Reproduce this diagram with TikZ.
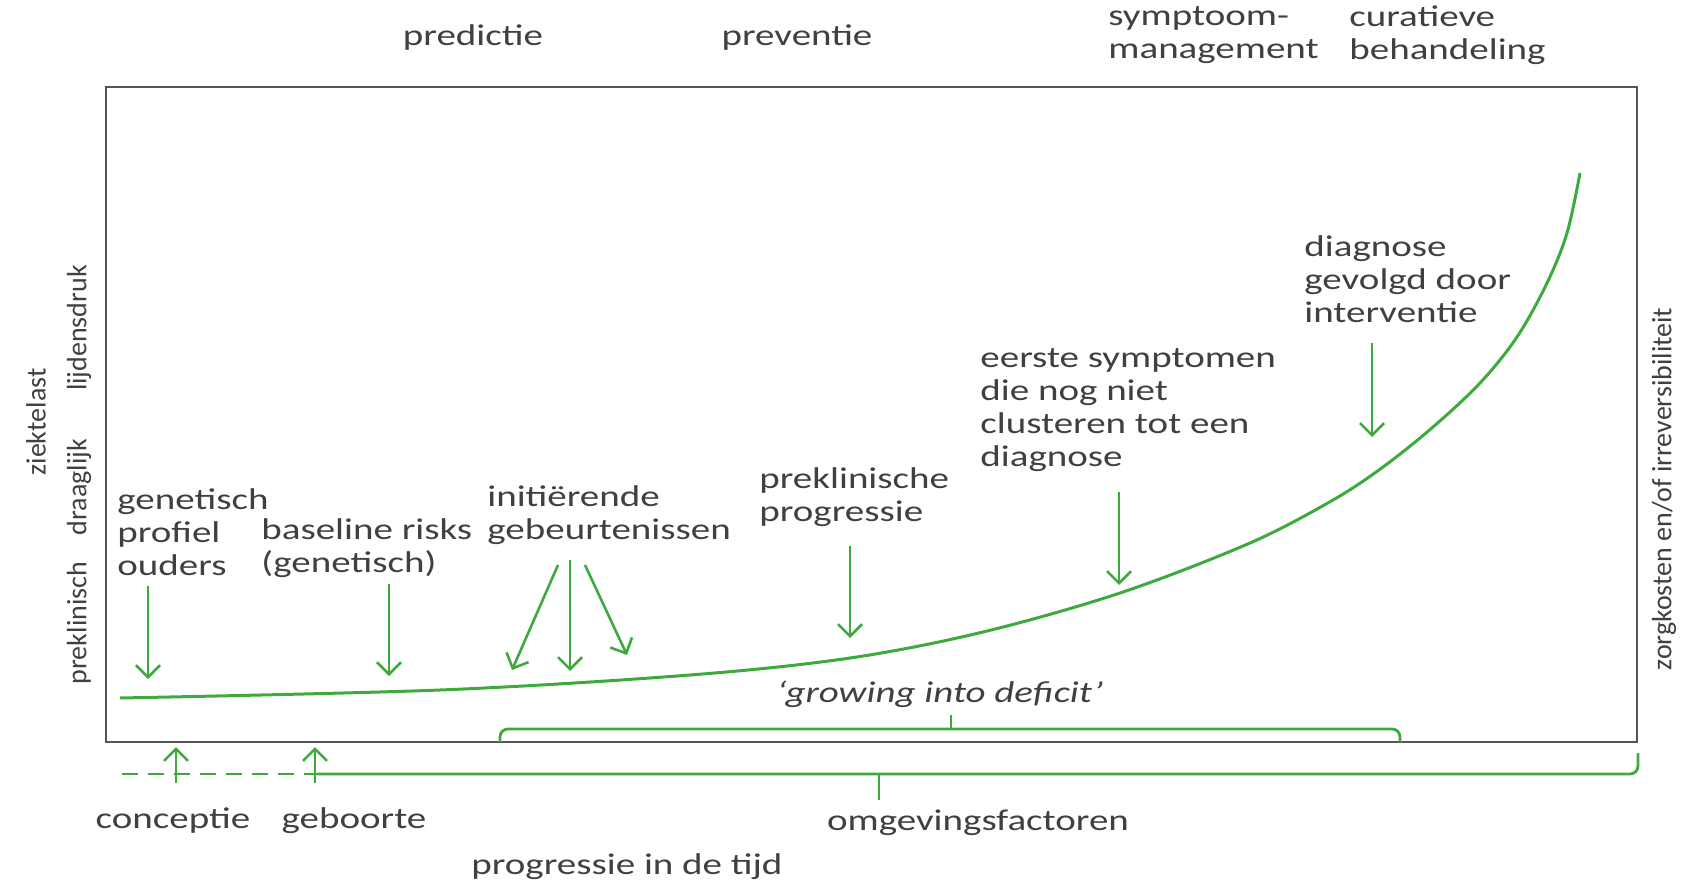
\documentclass[tikz,border=0pt]{standalone}
\usepackage{fontspec}
\setmainfont{Carlito}[FakeStretch=1.3]
\newfontfamily\rotfont{Carlito}
\usepackage{tikz}
\usetikzlibrary{positioning}
\usetikzlibrary{arrows.meta}
\definecolor{curvegreen}{RGB}{62,170,62}
\definecolor{textgray}{RGB}{64,64,64}
\definecolor{framegray}{RGB}{85,85,85}
\tikzset{
  frame_line/.style={line width=1.4pt, color=framegray},
  curve_line/.style={line width=1.5pt, color=curvegreen},
  arrow_down/.style={-{Straight Barb[length=6pt, width=12pt]}, line width=1.3pt, color=curvegreen},
  brace_line/.style={line width=1.4pt, color=curvegreen, rounded corners=4pt},
  time_dashed/.style={line width=1.4pt, color=curvegreen, dash pattern=on 8pt off 5pt},
  label_text/.style={inner sep=0, align=left, text=textgray, font=\fontsize{15}{16.5}\selectfont},
  side_text/.style={inner sep=0, rotate=90, text=textgray, font=\rotfont\fontsize{14}{16}\selectfont}
}
\begin{document}
\begin{tikzpicture}[x=0.5pt, y=-0.5pt]
\useasboundingbox (0,0) rectangle (1696,883);

%% Frame
\coordinate (box_nw) at (106,87);
\coordinate (box_se) at (1637,742);
\draw[frame_line] (box_nw) rectangle (box_se);

%% Top labels
\node[label_text] at (473,38) (predictie) {predictie};
\node[label_text] at (797,38) (preventie) {preventie};
\node[label_text, anchor=west] at (1108,35) (symptoom) {symptoom-\\management};
\node[label_text, anchor=west] at (1349,35) (curatief) {curatieve\\behandeling};

%% Side labels
\node[side_text] at (36,422)  (ziektelast) {ziektelast};
\node[side_text] at (79,623)  (preklin) {preklinisch};
\node[side_text] at (79,487)  (draaglijk) {draaglijk};
\node[side_text] at (79,328)  (lijden) {lijdensdruk};
\node[side_text] at (1664,489) (zorgkosten) {zorgkosten en/of irreversibiliteit};

%% Labels in the frame
\node[label_text, anchor=west] at (117,532) (genetisch) {genetisch\\profiel\\ouders};
\node[label_text, anchor=west] at (261,548) (baseline) {baseline risks\\(genetisch)};
\node[label_text, anchor=west] at (487,515) (initierend) {initiërende\\gebeurtenissen};
\node[label_text, anchor=west] at (759,497) (progressie) {preklinische\\progressie};
\node[label_text, anchor=west] at (980,410) (symptomen) {eerste symptomen\\die nog niet\\clusteren tot een\\diagnose};
\node[label_text, anchor=west] at (1304,279) (diagnose) {diagnose\\gevolgd door\\interventie};
\node[label_text, font=\itshape\fontsize{15}{16.5}\selectfont] at (940,694) (deficit) {‘growing into deficit’};

%% Curve
\draw[curve_line] plot[smooth, tension=0.55] coordinates {(120,698) (440,690) (690,675) (850,658) (983,632) (1120,593) (1250,543) (1333,500) (1383,467) (1433,427) (1480,383) (1517,337) (1547,283) (1567,233) (1580,173)};

%% Arrows
\coordinate (gen_s) at (148,586);   \coordinate (gen_e) at (148,679);
\coordinate (base_s) at (389,584);  \coordinate (base_e) at (389,676);
\coordinate (ini1_s) at (558,565);  \coordinate (ini1_e) at (512,670);
\coordinate (ini2_s) at (570,560);  \coordinate (ini2_e) at (570,671);
\coordinate (ini3_s) at (585,565);  \coordinate (ini3_e) at (627,655);
\coordinate (prog_s) at (850,546);  \coordinate (prog_e) at (850,638);
\coordinate (symp_s) at (1119,492); \coordinate (symp_e) at (1119,585);
\coordinate (diag_s) at (1372,343); \coordinate (diag_e) at (1372,437);
\coordinate (conc_s) at (176,783);  \coordinate (conc_e) at (176,747);
\coordinate (geb_s) at (315,783);   \coordinate (geb_e) at (315,747);

\draw[arrow_down] (gen_s) -- (gen_e);
\draw[arrow_down] (base_s) -- (base_e);
\draw[arrow_down] (ini1_s) -- (ini1_e);
\draw[arrow_down] (ini2_s) -- (ini2_e);
\draw[arrow_down] (ini3_s) -- (ini3_e);
\draw[arrow_down] (prog_s) -- (prog_e);
\draw[arrow_down] (symp_s) -- (symp_e);
\draw[arrow_down] (diag_s) -- (diag_e);
\draw[arrow_down] (conc_s) -- (conc_e);
\draw[arrow_down] (geb_s) -- (geb_e);

%% Braces
\coordinate (brace_l) at (500,742);
\coordinate (brace_r) at (1400,742);
\coordinate (brace_mid) at (951,729);
\coordinate (brace_tip) at (951,715);
\draw[brace_line] (brace_l) -- ++(0,-13) -| (brace_r);
\draw[brace_line] (brace_mid) -- (brace_tip);

\coordinate (time_start) at (122,774);
\coordinate (time_birth) at (317,774);
\coordinate (time_end) at (1638,774);
\coordinate (time_top) at (1638,753);
\coordinate (env_mid) at (879,774);
\coordinate (env_tip) at (879,800);
\draw[time_dashed] (time_start) -- (time_birth);
\draw[brace_line] (time_birth) -- (time_end) -- (time_top);
\draw[brace_line] (env_mid) -- (env_tip);

%% Bottom labels
\node[label_text] at (173,821) (conceptie) {conceptie};
\node[label_text] at (354,821) (geboorte) {geboorte};
\node[label_text] at (978,823) (omgeving) {omgevingsfactoren};
\node[label_text] at (627,867) (tijd) {progressie in de tijd};

\end{tikzpicture}
\end{document}
